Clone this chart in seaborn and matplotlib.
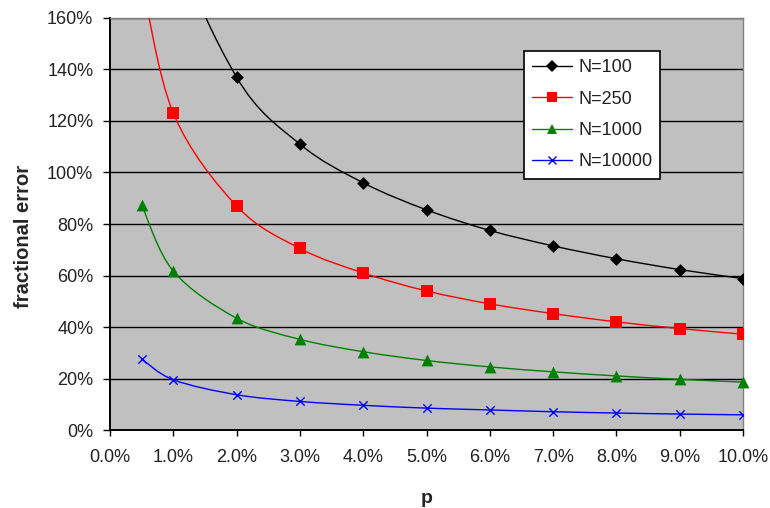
import numpy as np
import pandas as pd
import matplotlib.pyplot as plt
import seaborn as sns
from matplotlib.path import Path
from matplotlib.patches import PathPatch
from matplotlib.lines import Line2D
from matplotlib.ticker import FuncFormatter

# p in percent, fractional error in percent
p_values = [0.5, 1, 2, 3, 4, 5, 6, 7, 8, 9, 10]
err_n100 = [276, 195, 137, 111, 96, 85.5, 77.5, 71.5, 66.5, 62.3, 58.8]
err_n250 = [175, 123, 87, 70.5, 61, 54, 49, 45.2, 42, 39.4, 37.2]
err_n1000 = [87.4, 61.7, 43.4, 35.2, 30.4, 27, 24.5, 22.6, 21, 19.7, 18.6]
err_n10000 = [27.6, 19.5, 13.7, 11.1, 9.6, 8.5, 7.8, 7.1, 6.6, 6.2, 5.9]

series_names = ["N=100", "N=250", "N=1000", "N=10000"]
series_values = [err_n100, err_n250, err_n1000, err_n10000]
colors = ["#000000", "#FF0000", "#008000", "#0000FF"]
markers = ["D", "s", "^", "x"]
marker_sizes = [6.5, 8.5, 8.5, 6]

sns.set_style("white")
plt.rcParams["font.family"] = ["Liberation Sans", "DejaVu Sans"]

df = pd.DataFrame({
    "p": p_values * len(series_names),
    "err": sum(series_values, []),
    "N": np.repeat(series_names, len(p_values)),
})

fig = plt.figure(figsize=(7.7, 5.08), dpi=100)
ax = fig.add_axes([0.1429, 0.1535, 0.8221, 0.8111])
ax.set_facecolor("#C0C0C0")


def smooth_path(xs, ys):
    # Excel-style smoothed line: cubic Bezier segments through the points
    pts = np.column_stack([xs, ys]).astype(float)
    verts = [pts[0]]
    codes = [Path.MOVETO]
    n = len(pts)
    for i in range(n - 1):
        p0 = pts[max(i - 1, 0)]
        p1 = pts[i]
        p2 = pts[i + 1]
        p3 = pts[min(i + 2, n - 1)]
        c1 = p1 + (p2 - p0) / 6.0
        c2 = p2 - (p3 - p1) / 6.0
        verts += [c1, c2, p2]
        codes += [Path.CURVE4] * 3
    return Path(verts, codes)


for name, vals, col in zip(series_names, series_values, colors):
    patch = PathPatch(smooth_path(p_values, vals), facecolor="none",
                      edgecolor=col, lw=1.0, zorder=3)
    ax.add_patch(patch)

for name, col, mk, ms in zip(series_names, colors, markers, marker_sizes):
    sub = df[df["N"] == name]
    sns.scatterplot(data=sub, x="p", y="err", color=col, marker=mk,
                    s=ms ** 2, linewidth=1.0 if mk == "x" else 0,
                    edgecolor=col, ax=ax, zorder=4, legend=False,
                    clip_on=False if mk == "^" else True)

ax.set_xlim(0, 10)
ax.set_ylim(0, 160)
ax.set_xticks(range(0, 11))
ax.set_yticks(range(0, 161, 20))
ax.xaxis.set_major_formatter(FuncFormatter(lambda v, _: f"{v:.1f}%"))
ax.yaxis.set_major_formatter(FuncFormatter(lambda v, _: f"{v:.0f}%"))
ax.grid(axis="y", color="black", lw=1.0)
ax.set_axisbelow(True)
ax.tick_params(axis="both", direction="out", width=1, color="black",
               labelsize=13, bottom=True, left=True, labelcolor="#222222")
ax.tick_params(axis="x", length=4.5, pad=9)
ax.tick_params(axis="y", length=5, pad=7)

for side in ["top", "right"]:
    ax.spines[side].set_color("#808080")
    ax.spines[side].set_linewidth(1)
for side in ["left", "bottom"]:
    ax.spines[side].set_color("black")
    ax.spines[side].set_linewidth(1.4)

ax.set_xlabel("p", fontsize=14, fontweight="bold")
ax.set_ylabel("fractional error", fontsize=14.5, fontweight="bold")
ax.xaxis.set_label_coords(0.5, -0.165)
ax.yaxis.set_label_coords(-0.137, 0.47)
ax.xaxis.label.set_va("center")
ax.yaxis.label.set_va("center")

handles = [Line2D([0], [0], color=c, marker=m, markersize=s * 0.9, lw=1.0,
                  markeredgewidth=1.0 if m == "x" else 0, markerfacecolor=c)
           for c, m, s in zip(colors, markers, marker_sizes)]
leg = ax.legend(handles, series_names, loc="upper left",
                bbox_to_anchor=(0.654, 0.92), borderaxespad=0,
                frameon=True, fancybox=False, framealpha=1,
                edgecolor="black", fontsize=13, handlelength=2.2,
                handletextpad=0.35, labelspacing=0.8, borderpad=0.45)
leg.get_frame().set_linewidth(1.2)
for t in leg.get_texts():
    t.set_color("#222222")

fig.savefig("out.png", dpi=100)
